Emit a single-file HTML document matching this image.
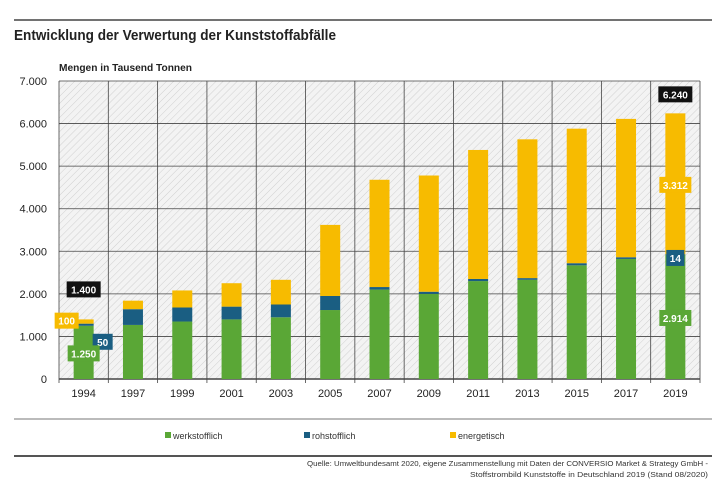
<!DOCTYPE html>
<html><head><meta charset="utf-8"><style>
body{margin:0;background:#fff;width:725px;height:487px;overflow:hidden;font-family:"Liberation Sans",sans-serif}
svg text{font-family:"Liberation Sans",sans-serif}
</style></head><body>
<svg width="725" height="487" xmlns="http://www.w3.org/2000/svg">
<defs><pattern id="hatch" width="5" height="5" patternUnits="userSpaceOnUse" patternTransform="rotate(45)"><rect width="5" height="5" fill="#f3f3f3"/><line x1="0" y1="0" x2="0" y2="5" stroke="#d0d0d0" stroke-width="1"/></pattern></defs>
<line x1="14" y1="20" x2="712" y2="20" stroke="#444" stroke-width="1.5"/>
<text x="14" y="40" font-size="15" font-weight="bold" fill="#222" textLength="322" lengthAdjust="spacingAndGlyphs">Entwicklung der Verwertung der Kunststoffabfälle</text>
<text x="59" y="71" font-size="10.5" font-weight="bold" fill="#222" textLength="133" lengthAdjust="spacingAndGlyphs">Mengen in Tausend Tonnen</text>
<rect x="59" y="81" width="641" height="298" fill="url(#hatch)"/>
<g id="grid"></g><g id="bars"></g><g id="labels"></g>
<line x1="14" y1="419" x2="712" y2="419" stroke="#777" stroke-width="1"/>
<g>
<rect x="165" y="432" width="6" height="6" fill="#5aa736"/>
<text x="173" y="439" font-size="9" fill="#333">werkstofflich</text>
<rect x="304" y="432" width="6" height="6" fill="#1a5e82"/>
<text x="312" y="439" font-size="9" fill="#333">rohstofflich</text>
<rect x="450" y="432" width="6" height="6" fill="#f7bb00"/>
<text x="458" y="439" font-size="9" fill="#333">energetisch</text>
</g>
<line x1="14" y1="456" x2="712" y2="456" stroke="#555" stroke-width="2"/>
<text x="708" y="466" font-size="7.5" text-anchor="end" fill="#333" font-family="Liberation Serif" textLength="401" lengthAdjust="spacingAndGlyphs">Quelle: Umweltbundesamt 2020, eigene Zusammenstellung mit Daten der CONVERSIO Market &amp; Strategy GmbH -</text>
<text x="708" y="477" font-size="7.5" text-anchor="end" fill="#333" font-family="Liberation Serif" textLength="238" lengthAdjust="spacingAndGlyphs">Stoffstrombild Kunststoffe in Deutschland 2019 (Stand 08/2020)</text>
</svg>
<script>
const years=["1994","1997","1999","2001","2003","2005","2007","2009","2011","2013","2015","2017","2019"];
const werk=[1250,1270,1350,1400,1450,1620,2100,2000,2300,2330,2670,2820,2914];
const roh=[50,370,330,300,300,330,60,50,50,40,50,40,14];
const ener=[100,200,400,550,580,1670,2520,2730,3030,3260,3160,3250,3312];
const yTicks=[0,1000,2000,3000,4000,5000,6000,7000];
const yTickLabels=["0","1.000","2.000","3.000","4.000","5.000","6.000","7.000"];
const NS="http://www.w3.org/2000/svg";
const X0=59,X1=700,Y0=379,Y1=81,YMAX=7000;
const cw=(X1-X0)/years.length;
const y=v=>Y0-(v/YMAX)*(Y0-Y1);
const xc=i=>X0+cw*(i+0.5);
function mk(tag,attrs,parent){const e=document.createElementNS(NS,tag);for(const k in attrs)e.setAttribute(k,attrs[k]);parent.appendChild(e);return e;}
const grid=document.getElementById('grid'),bars=document.getElementById('bars'),labels=document.getElementById('labels');
yTicks.forEach((t,i)=>{
 const l=mk('line',{x1:X0,x2:X1,y1:y(t),y2:y(t),stroke:'#444','stroke-width':t===0?1.5:0.8},grid);
 
 
 const tx=mk('text',{x:47,y:y(t)+4,'font-size':11,'text-anchor':'end',fill:'#222'},grid);tx.textContent=yTickLabels[i];
 
 
});
for(let i=0;i<=years.length;i++){
 const x=X0+cw*i;
 const l=mk('line',{x1:x,x2:x,y1:Y1,y2:Y0+4,stroke:'#444','stroke-width':0.8},grid);
 
 
}
years.forEach((yr,i)=>{
 const bw=20,bx=xc(i)-bw/2;
 const segs=[[0,werk[i],'#5aa736','werkstofflich'],[werk[i],werk[i]+roh[i],'#1a5e82','rohstofflich'],[werk[i]+roh[i],werk[i]+roh[i]+ener[i],'#f7bb00','energetisch']];
 segs.forEach(s=>{
  const r=mk('rect',{x:bx,y:y(s[1]),width:bw,height:y(s[0])-y(s[1]),fill:s[2]},bars);
  
  
 });
 const t=mk('text',{x:xc(i),y:397,'font-size':11,'text-anchor':'middle',fill:'#222'},labels);t.textContent=yr;
 
 
});
function fmt(v){return v>=1000?Math.floor(v/1000)+'.'+String(v%1000).padStart(3,'0'):String(v);}
function badge(cx,cy,w,txt,bg,fg,name){
 const r=mk('rect',{x:cx-w/2,y:cy-8,width:w,height:16,fill:bg},labels);
 
 
 const t=mk('text',{x:cx,y:cy+4,'font-size':10,'font-weight':'bold','text-anchor':'middle',fill:fg},labels);t.textContent=txt;
 
 
}
const f=0,l=years.length-1;
const tf=werk[f]+roh[f]+ener[f],tl=werk[l]+roh[l]+ener[l];
badge(xc(f),y(tf)-30,34,fmt(tf),'#111','#fff','total-label-1994');
badge(xc(f)-17,y(werk[f]+roh[f])-3,24,fmt(ener[f]),'#f7bb00','#fff','energetisch-label-1994');
badge(xc(f)+19,y(werk[f])+16,20,fmt(roh[f]),'#1a5e82','#fff','rohstofflich-label-1994');
badge(xc(f),y(werk[f]/2)+1,32,fmt(werk[f]),'#5aa736','#fff','werkstofflich-label-1994');
badge(xc(l),y(tl)-19,34,fmt(tl),'#111','#fff','total-label-2019');
badge(xc(l),y(werk[l]+roh[l]+ener[l]/2)+1,32,fmt(ener[l]),'#f7bb00','#fff','energetisch-label-2019');
badge(xc(l),y(werk[l])+3,18,fmt(roh[l]),'#1a5e82','#fff','rohstofflich-label-2019');
badge(xc(l),y(werk[l]/2)+1,32,fmt(werk[l]),'#5aa736','#fff','werkstofflich-label-2019');
</script>
</body></html>
